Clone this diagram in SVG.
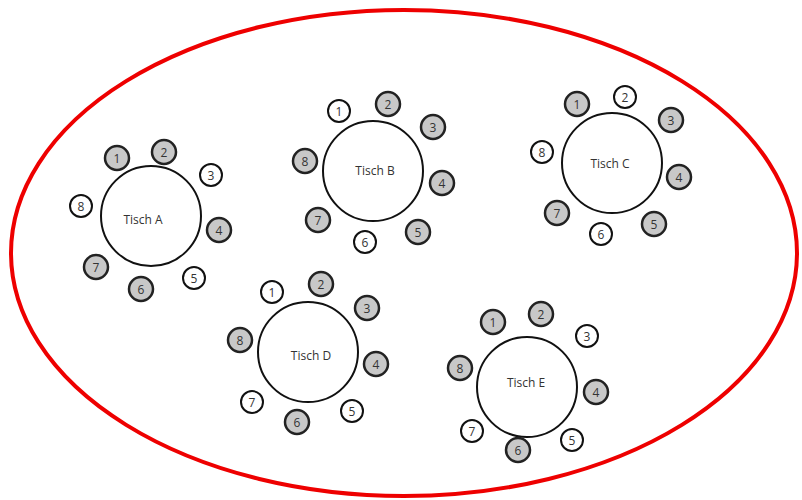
<svg xmlns="http://www.w3.org/2000/svg" width="802" height="500" viewBox="0 0 802 500">
<style>
.room{fill:none;stroke:#ee0000;stroke-width:4}
.table{fill:#fff;stroke:#111;stroke-width:2}
.sw{fill:#fff;stroke:#111;stroke-width:2}
.sg{fill:#c8c8c8;stroke:#222;stroke-width:2.5}
.tl{font-family:"Open Sans","Liberation Sans",sans-serif;font-size:12px;fill:#333;text-anchor:middle;dominant-baseline:central}
.sn{font-family:"Open Sans","Liberation Sans",sans-serif;font-size:12px;fill:#333;text-anchor:middle;dominant-baseline:central}
</style>
<rect width="802" height="500" fill="#fff"/>
<ellipse class="room" cx="404" cy="253" rx="393" ry="243"/>
<g id="tischA">
<circle class="table" cx="151" cy="216" r="50"/><text class="tl" x="143" y="219">Tisch A</text>
<circle class="sg" cx="117" cy="158" r="12"/><text class="sn" x="117" y="158">1</text>
<circle class="sg" cx="164" cy="152" r="12"/><text class="sn" x="164" y="152">2</text>
<circle class="sw" cx="211" cy="175" r="11"/><text class="sn" x="211" y="175">3</text>
<circle class="sg" cx="219" cy="230" r="12"/><text class="sn" x="219" y="230">4</text>
<circle class="sw" cx="194" cy="278" r="11"/><text class="sn" x="194" y="278">5</text>
<circle class="sg" cx="141" cy="289" r="12"/><text class="sn" x="141" y="289">6</text>
<circle class="sg" cx="96" cy="267" r="12"/><text class="sn" x="96" y="267">7</text>
<circle class="sw" cx="81" cy="206" r="11"/><text class="sn" x="81" y="206">8</text>
</g>
<g id="tischB">
<circle class="table" cx="373" cy="171" r="50"/><text class="tl" x="375" y="170">Tisch B</text>
<circle class="sw" cx="339" cy="111" r="11"/><text class="sn" x="339" y="111">1</text>
<circle class="sg" cx="388" cy="104" r="12"/><text class="sn" x="388" y="104">2</text>
<circle class="sg" cx="433" cy="127" r="12"/><text class="sn" x="433" y="127">3</text>
<circle class="sg" cx="442" cy="183" r="12"/><text class="sn" x="442" y="183">4</text>
<circle class="sg" cx="418" cy="232" r="12"/><text class="sn" x="418" y="232">5</text>
<circle class="sw" cx="365" cy="242" r="11"/><text class="sn" x="365" y="242">6</text>
<circle class="sg" cx="318" cy="220" r="12"/><text class="sn" x="318" y="220">7</text>
<circle class="sg" cx="305" cy="161" r="12"/><text class="sn" x="305" y="161">8</text>
</g>
<g id="tischC">
<circle class="table" cx="612" cy="163" r="50"/><text class="tl" x="610" y="163">Tisch C</text>
<circle class="sg" cx="577" cy="104" r="12"/><text class="sn" x="577" y="104">1</text>
<circle class="sw" cx="625" cy="97" r="11"/><text class="sn" x="625" y="97">2</text>
<circle class="sg" cx="671" cy="120" r="12"/><text class="sn" x="671" y="120">3</text>
<circle class="sg" cx="679" cy="177" r="12"/><text class="sn" x="679" y="177">4</text>
<circle class="sg" cx="654" cy="224" r="12"/><text class="sn" x="654" y="224">5</text>
<circle class="sw" cx="601" cy="234" r="11"/><text class="sn" x="601" y="234">6</text>
<circle class="sg" cx="557" cy="213" r="12"/><text class="sn" x="557" y="213">7</text>
<circle class="sw" cx="542" cy="152" r="11"/><text class="sn" x="542" y="152">8</text>
</g>
<g id="tischD">
<circle class="table" cx="308" cy="352" r="50"/><text class="tl" x="311" y="355">Tisch D</text>
<circle class="sw" cx="272" cy="292" r="11"/><text class="sn" x="272" y="292">1</text>
<circle class="sg" cx="321" cy="284" r="12"/><text class="sn" x="321" y="284">2</text>
<circle class="sg" cx="367" cy="308" r="12"/><text class="sn" x="367" y="308">3</text>
<circle class="sg" cx="376" cy="364" r="12"/><text class="sn" x="376" y="364">4</text>
<circle class="sw" cx="352" cy="411" r="11"/><text class="sn" x="352" y="411">5</text>
<circle class="sg" cx="297" cy="422" r="12"/><text class="sn" x="297" y="422">6</text>
<circle class="sw" cx="252" cy="402" r="11"/><text class="sn" x="252" y="402">7</text>
<circle class="sg" cx="240" cy="340" r="12"/><text class="sn" x="240" y="340">8</text>
</g>
<g id="tischE">
<circle class="table" cx="527" cy="387" r="50"/><text class="tl" x="526" y="382">Tisch E</text>
<circle class="sg" cx="493" cy="322" r="12"/><text class="sn" x="493" y="322">1</text>
<circle class="sg" cx="541" cy="314" r="12"/><text class="sn" x="541" y="314">2</text>
<circle class="sw" cx="587" cy="336" r="11"/><text class="sn" x="587" y="336">3</text>
<circle class="sg" cx="596" cy="392" r="12"/><text class="sn" x="596" y="392">4</text>
<circle class="sw" cx="572" cy="440" r="11"/><text class="sn" x="572" y="440">5</text>
<circle class="sg" cx="518" cy="450" r="12"/><text class="sn" x="518" y="450">6</text>
<circle class="sw" cx="472" cy="431" r="11"/><text class="sn" x="472" y="431">7</text>
<circle class="sg" cx="460" cy="368" r="12"/><text class="sn" x="460" y="368">8</text>
</g>
</svg>
